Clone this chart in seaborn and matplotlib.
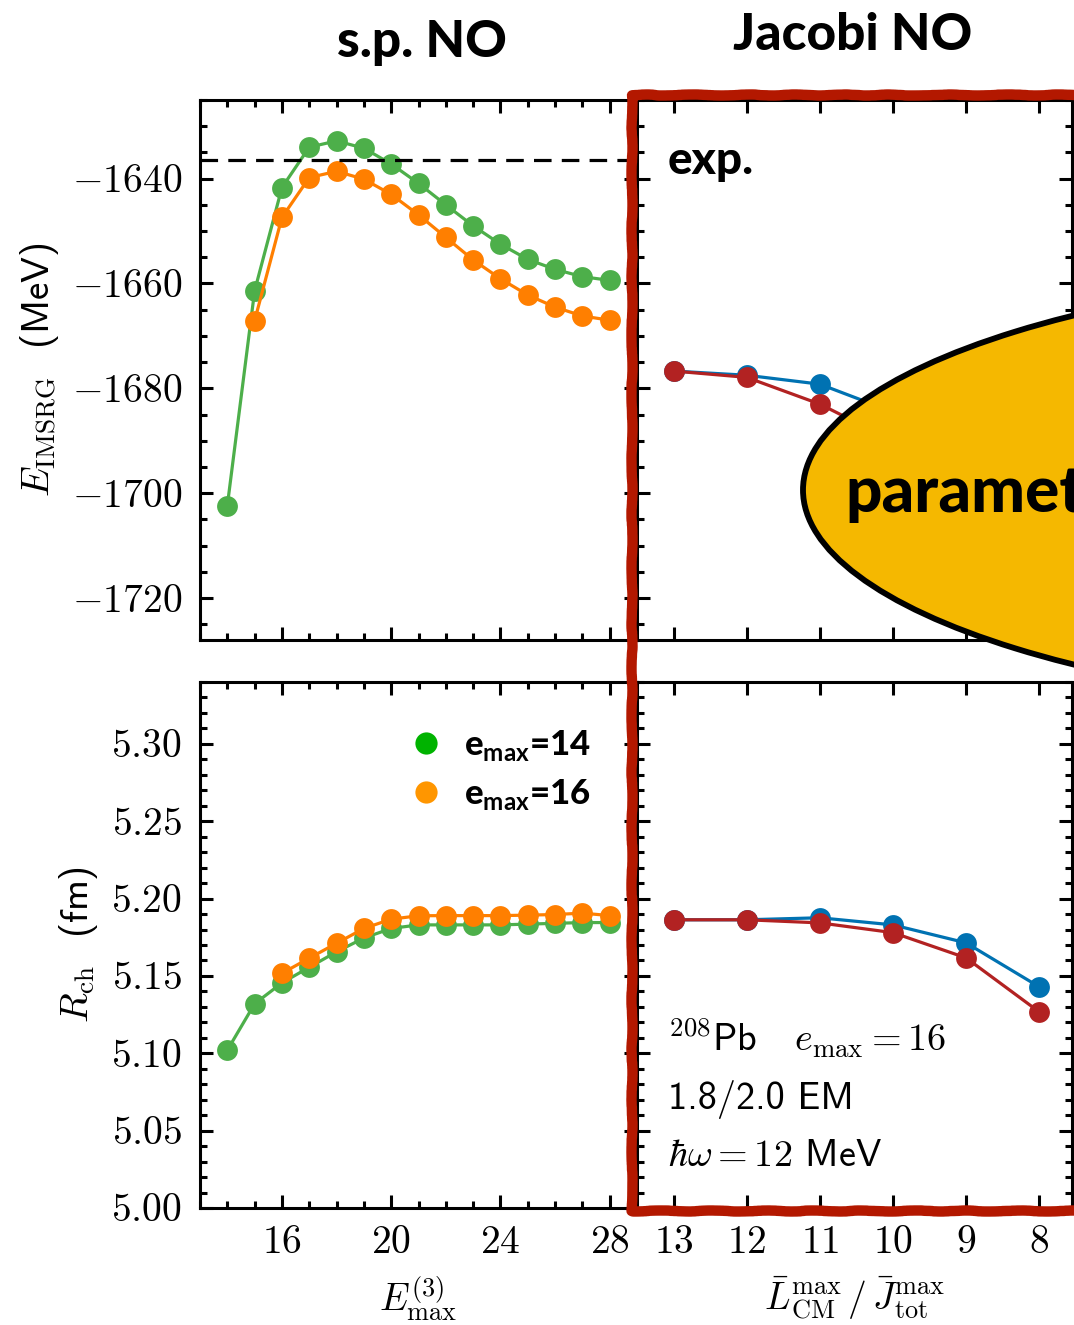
import numpy as np
import pandas as pd
import matplotlib
matplotlib.use("Agg")
import matplotlib.pyplot as plt
import seaborn as sns
from matplotlib.lines import Line2D
from matplotlib.patches import Ellipse
from matplotlib.ticker import MultipleLocator, FuncFormatter

# ---------------- data ----------------
e3max_14 = [14, 15, 16, 17, 18, 19, 20, 21, 22, 23, 24, 25, 26, 27, 28]
E_emax14 = [-1702.4, -1661.4, -1641.7, -1634.0, -1632.8, -1634.2, -1637.2, -1640.9,
            -1645.0, -1649.0, -1652.5, -1655.4, -1657.3, -1658.7, -1659.4]
e3max_16E = [15, 16, 17, 18, 19, 20, 21, 22, 23, 24, 25, 26, 27, 28]
E_emax16 = [-1667.1, -1647.4, -1639.8, -1638.6, -1640.1, -1643.0, -1646.9, -1651.2,
            -1655.5, -1659.1, -1662.2, -1664.5, -1666.2, -1667.0]
R_emax14 = [5.102, 5.132, 5.1455, 5.1556, 5.1656, 5.1745, 5.1807, 5.183, 5.183,
            5.183, 5.183, 5.1835, 5.184, 5.1845, 5.1845]
e3max_16R = [16, 17, 18, 19, 20, 21, 22, 23, 24, 25, 26, 27, 28]
R_emax16 = [5.1517, 5.1615, 5.1711, 5.1807, 5.1867, 5.1889, 5.189, 5.189, 5.189,
            5.1893, 5.1897, 5.1906, 5.189]
E_exp = -1636.4

jac_x = [13, 12, 11, 10, 9, 8]
E_jac_blue = [-1676.7, -1677.5, -1679.2, -1684.5, -1693.0, -1706.0]
E_jac_red = [-1676.7, -1677.9, -1683.0, -1690.0, -1701.0, -1716.0]
R_jac_blue = [5.1863, 5.1863, 5.1876, 5.1830, 5.1714, 5.1430]
R_jac_red = [5.1863, 5.1863, 5.1843, 5.1780, 5.1617, 5.1268]

left_xticks = [16, 20, 24, 28]
right_xticks = [13, 12, 11, 10, 9, 8]

# ---------------- style ----------------
sns.set_theme(style="ticks")
plt.rcParams['font.family'] = ['cmss10', 'DejaVu Sans']
plt.rcParams['mathtext.fontset'] = 'cm'
plt.rcParams['mathtext.bf'] = 'Lato:bold'
plt.rcParams['axes.linewidth'] = 2.2
for k in ('text.color', 'axes.labelcolor', 'xtick.color', 'ytick.color',
          'axes.edgecolor'):
    plt.rcParams[k] = 'black'

GREEN, ORANGE = "#4daf4a", "#ff7f00"
BLUE, RED = "#0072b2", "#b22222"

W, H = 1074, 1325
fig = plt.figure(figsize=(W / 100, H / 100), dpi=100)


def rect(x0, x1, y0, y1):
    return [x0 / W, 1 - y1 / H, (x1 - x0) / W, (y1 - y0) / H]


ax_tl = fig.add_axes(rect(200, 637, 100, 640))
ax_tr = fig.add_axes(rect(637, 1072, 100, 640))
ax_bl = fig.add_axes(rect(200, 637, 682, 1208))
ax_br = fig.add_axes(rect(637, 1072, 682, 1208))

lkw = dict(marker='o', markersize=15, markeredgewidth=0, linewidth=2.3, legend=False)

# top-left
sns.lineplot(x=e3max_14, y=E_emax14, ax=ax_tl, color=GREEN, **lkw)
sns.lineplot(x=e3max_16E, y=E_emax16, ax=ax_tl, color=ORANGE, **lkw)
ax_tl.axhline(E_exp, color='black', lw=2.3, ls=(0, (5.5, 3.2)))
# bottom-left
sns.lineplot(x=e3max_14, y=R_emax14, ax=ax_bl, color=GREEN, **lkw)
sns.lineplot(x=e3max_16R, y=R_emax16, ax=ax_bl, color=ORANGE, **lkw)
# right panels
sns.lineplot(x=jac_x, y=E_jac_blue, ax=ax_tr, color=BLUE, **lkw)
sns.lineplot(x=jac_x, y=E_jac_red, ax=ax_tr, color=RED, **lkw)
sns.lineplot(x=jac_x, y=R_jac_blue, ax=ax_br, color=BLUE, **lkw)
sns.lineplot(x=jac_x, y=R_jac_red, ax=ax_br, color=RED, **lkw)

for ax in (ax_tl, ax_bl):
    ax.set_xlim(13, 29)
    ax.set_xticks(left_xticks)
    ax.xaxis.set_minor_locator(MultipleLocator(1))
for ax in (ax_tr, ax_br):
    ax.set_xlim(13.5, 7.55)
    ax.set_xticks(right_xticks)
for ax in (ax_tl, ax_tr):
    ax.set_ylim(-1728, -1625)
    ax.yaxis.set_major_locator(MultipleLocator(20))
    ax.yaxis.set_minor_locator(MultipleLocator(5))
for ax in (ax_bl, ax_br):
    ax.set_ylim(5.0, 5.34)
    ax.yaxis.set_major_locator(MultipleLocator(0.05))
    ax.yaxis.set_minor_locator(MultipleLocator(0.01))

intfmt = FuncFormatter(lambda v, p: f"${v:.0f}$")
ax_tl.yaxis.set_major_formatter(intfmt)
ax_bl.yaxis.set_major_formatter(FuncFormatter(lambda v, p: f"${v:.2f}$"))
ax_bl.xaxis.set_major_formatter(intfmt)
ax_br.xaxis.set_major_formatter(intfmt)

for ax in (ax_tl, ax_tr, ax_bl, ax_br):
    ax.tick_params(which='both', direction='in', top=True, right=True,
                   labelsize=28.5, pad=13, width=2.2, color='black',
                   labelcolor='black')
    ax.tick_params(which='major', length=9.5)
    ax.tick_params(which='minor', length=5)
    for s in ax.spines.values():
        s.set_linewidth(2.2)
        s.set_color('black')
    ax.set_xlabel("")
    ax.set_ylabel("")

ax_tl.tick_params(labelbottom=False)
ax_tr.tick_params(labelbottom=False, labelleft=False)
ax_br.tick_params(labelleft=False)

ax_tl.set_ylabel(r"$E_{\rm IMSRG}$  (MeV)", fontsize=28, labelpad=8)
ax_bl.set_ylabel(r"$R_{\rm ch}$  (fm)", fontsize=28, labelpad=8)
ax_bl.set_xlabel(r"$E^{(3)}_{\max}$", fontsize=27, labelpad=10)
ax_br.set_xlabel(r"$\bar{L}^{\rm max}_{\rm CM}\,/\,\bar{J}^{\rm max}_{\rm tot}$",
                 fontsize=27, labelpad=10)

# legend
handles = [Line2D([], [], ls='none', marker='o', color='#00b300', markersize=16, mew=0),
           Line2D([], [], ls='none', marker='o', color='#ff9600', markersize=16, mew=0)]
leg = ax_bl.legend(handles, [r"e$_{\mathbf{max}}$=14", r"e$_{\mathbf{max}}$=16"],
                   loc='upper right', bbox_to_anchor=(0.958, 0.966), frameon=False,
                   prop={'family': 'Lato', 'weight': 'black', 'size': 25},
                   handlelength=1.0, handletextpad=0.6, labelspacing=0.42,
                   borderpad=0.3)
for t in leg.get_texts():
    t.set_math_fontfamily('custom')
    t.set_color('black')

# titles and annotations
fig.text(422 / W, 1 - 42 / H, "s.p. NO", ha='center', va='center',
         family='Lato', weight='black', fontsize=37, color='black')
fig.text(853 / W, 1 - 36 / H, "Jacobi NO", ha='center', va='center',
         family='Lato', weight='black', fontsize=37, color='black')
fig.text(668 / W, 1 - 161 / H, "exp.", ha='left', va='center',
         family='Lato', weight='black', fontsize=33, color='black')

fig.text(668 / W, 1 - 1052 / H, r"$^{208}$Pb   $e_{\max}=16$", ha='left',
         va='baseline', fontsize=27.5, color='black')
fig.text(668 / W, 1 - 1109 / H, "1.8/2.0 EM", ha='left', va='baseline',
         fontsize=27.5, color='black')
fig.text(668 / W, 1 - 1166 / H, r"$\hbar\omega=12$ MeV", ha='left', va='baseline',
         fontsize=27.5, color='black')

# hand-drawn red frame
frame = Line2D([1100 / W, 632 / W, 632 / W, 1100 / W],
               [1 - 95 / H, 1 - 95 / H, 1 - 1211 / H, 1 - 1211 / H],
               transform=fig.transFigure, color='#b31800', lw=7.5,
               solid_joinstyle='round', solid_capstyle='round', zorder=9)
frame.set_sketch_params(scale=0.5, length=90, randomness=6)
fig.add_artist(frame)

# parameter bubble
ell = Ellipse((1528 / W, 1 - 490 / H), 1450 / W, 448 / H, transform=fig.transFigure,
              facecolor='#f5b800', edgecolor='black', lw=4.2, zorder=10)
fig.add_artist(ell)
fig.text(845 / W, 1 - 512 / H, "parameter", ha='left', va='baseline',
         family='Lato', weight='black', fontsize=46, color='black', zorder=11)

fig.savefig("out.png", dpi=100)
